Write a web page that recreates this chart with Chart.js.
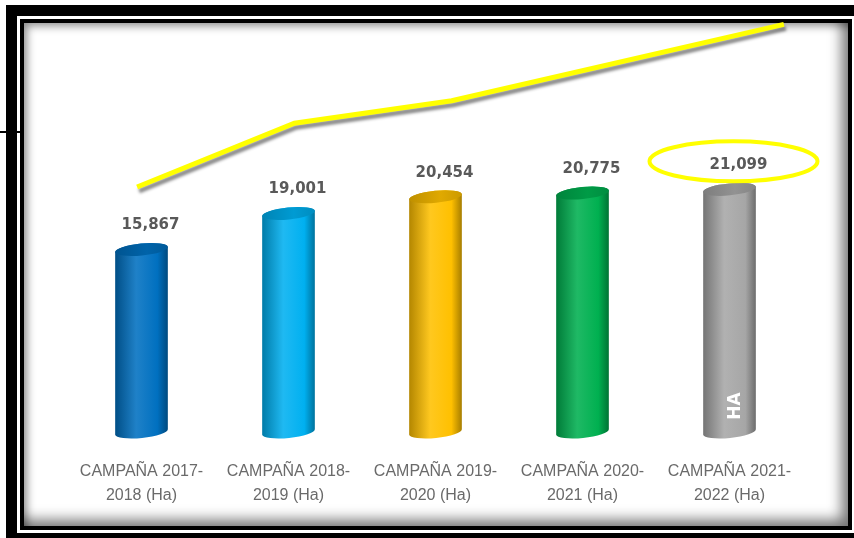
<!DOCTYPE html>
<html lang="es">
<head>
    <meta charset="UTF-8">
    <title>Campañas (Ha)</title>
    <script src="https://cdn.jsdelivr.net/npm/chart.js@4"></script>
    <style>
        html, body { margin: 0; padding: 0; background: #fff; overflow: hidden; }
        body { width: 854px; height: 538px; position: relative; }
        .marcoExterno { position: absolute; left: 6px; top: 5px; width: 860px; height: 539px; border: 11px solid #000; box-sizing: border-box; }
        .marcoInterno { position: absolute; left: 20px; top: 19px; width: 832px; height: 511px; border: 4px solid #000; box-sizing: border-box; background: #fff;
            box-shadow: inset -12px -12px 14px -6px rgba(0,0,0,.55), inset 7px 7px 9px -4px rgba(0,0,0,.45); }
        .raya { position: absolute; left: 0; top: 131px; width: 21px; height: 2px; background: #000; }
        #grafico { position: absolute; left: 0; top: 0; }
    </style>
</head>
<body>
    <div class="marcoExterno"></div>
    <div class="raya"></div>
    <div class="marcoInterno"></div>
    <canvas id="grafico" width="854" height="538"></canvas>

<script>
    // datos
    const campanias = [
        ['CAMPAÑA 2017-', '2018 (Ha)'],
        ['CAMPAÑA 2018-', '2019 (Ha)'],
        ['CAMPAÑA 2019-', '2020 (Ha)'],
        ['CAMPAÑA 2020-', '2021 (Ha)'],
        ['CAMPAÑA 2021-', '2022 (Ha)']
    ];
    const hectareas = [15867, 19001, 20454, 20775, 21099];
    // linea amarilla de tendencia (dibujada a mano encima), en unidades de categoria / Ha
    const tendenciaX = [-0.03, 1.04, 2.11, 4.37];
    const tendenciaY = [21300, 26850, 28800, 35450];

    const coloresBarras = ['#0070C0', '#00B0F0', '#FFC000', '#00B050', '#A6A6A6'];

    function tono(hex, f) {
        const n = parseInt(hex.slice(1), 16);
        let r = n >> 16, g = (n >> 8) & 255, b = n & 255;
        const t = f < 0 ? 0 : 255, p = Math.abs(f);
        r = Math.round(r + (t - r) * p);
        g = Math.round(g + (t - g) * p);
        b = Math.round(b + (t - b) * p);
        return `rgb(${r},${g},${b})`;
    }

    // cilindros 3D dibujados sobre las barras de Chart.js
    const cilindros = {
        id: 'cilindros',
        beforeDatasetsDraw(chart) {
            const ctx = chart.ctx;
            const meta = chart.getDatasetMeta(0);
            meta.data.forEach((bar, i) => {
                const rx = bar.width / 2, ry = 6, rot = -0.1;
                const cx = bar.x, arriba = bar.y, abajo = bar.base;
                const col = coloresBarras[i];

                const g = ctx.createLinearGradient(cx - rx, 0, cx + rx, 0);
                g.addColorStop(0, tono(col, -0.3));
                g.addColorStop(0.4, tono(col, 0.12));
                g.addColorStop(0.8, col);
                g.addColorStop(1, tono(col, -0.35));

                ctx.save();
                ctx.beginPath();
                ctx.ellipse(cx, arriba, rx, ry, rot, Math.PI, 2 * Math.PI);
                ctx.ellipse(cx, abajo, rx, ry, rot, 0, Math.PI);
                ctx.closePath();
                ctx.fillStyle = g;
                ctx.fill();

                const gt = ctx.createLinearGradient(cx - rx, 0, cx + rx, 0);
                gt.addColorStop(0, tono(col, -0.25));
                gt.addColorStop(0.6, tono(col, -0.12));
                gt.addColorStop(1, tono(col, -0.2));
                ctx.beginPath();
                ctx.ellipse(cx, arriba, rx, ry, rot, 0, 2 * Math.PI);
                ctx.fillStyle = gt;
                ctx.fill();
                ctx.restore();
            });
        },
        afterDatasetsDraw(chart) {
            const ctx = chart.ctx;
            const meta = chart.getDatasetMeta(0);
            ctx.save();
            ctx.font = 'bold 15px "DejaVu Sans"';
            ctx.fillStyle = '#595959';
            ctx.textAlign = 'center';
            ctx.textBaseline = 'middle';
            meta.data.forEach((bar, i) => {
                ctx.fillText(hectareas[i].toLocaleString('en-US'), bar.x + 9, bar.y - 24);
            });

            // resaltado de la ultima campaña
            const ult = meta.data[meta.data.length - 1];
            ctx.beginPath();
            ctx.ellipse(ult.x + 4, ult.y - 28, 84, 20, 0, 0, 2 * Math.PI);
            ctx.strokeStyle = '#ffff00';
            ctx.lineWidth = 4;
            ctx.stroke();

            ctx.translate(ult.x + 6, ult.base - 26);
            ctx.rotate(-Math.PI / 2);
            ctx.font = 'bold 17px "DejaVu Sans"';
            ctx.fillStyle = '#ffffff';
            ctx.fillText('HA', 0, 0);
            ctx.restore();
        },
        beforeDatasetDraw(chart, args) {
            if (args.index === 1) {
                const ctx = chart.ctx;
                ctx.save();
                ctx.shadowColor = 'rgba(0,0,0,0.45)';
                ctx.shadowOffsetX = 2;
                ctx.shadowOffsetY = 4;
                ctx.shadowBlur = 3;
            }
        },
        afterDatasetDraw(chart, args) {
            if (args.index === 1) chart.ctx.restore();
        }
    };

    const dados = {
        labels: campanias,
        datasets: [{
            type: 'bar',
            data: hectareas,
            backgroundColor: 'rgba(0,0,0,0)',
            categoryPercentage: 0.6,
            barPercentage: 0.6,
            grouped: false,
            xAxisID: 'x',
            yAxisID: 'y'
        }, {
            type: 'line',
            data: tendenciaX.map((x, i) => ({ x: x, y: tendenciaY[i] })),
            borderColor: '#ffff00',
            borderWidth: 5,
            pointRadius: 0,
            tension: 0,
            clip: false,
            xAxisID: 'xt',
            yAxisID: 'y'
        }]
    };

    const config = {
        type: 'bar',
        data: dados,
        options: {
            responsive: false,
            animation: false,
            layout: { padding: { left: 68, right: 51, top: 18, bottom: 10 } },
            plugins: { legend: { display: false }, tooltip: { enabled: false } },
            scales: {
                x: {
                    grid: { display: false },
                    border: { display: false },
                    ticks: {
                        color: '#6a6a6a',
                        padding: 20,
                        maxRotation: 0,
                        font: { family: '"Liberation Sans", Arial, sans-serif', size: 16, lineHeight: 1.5 }
                    }
                },
                xt: { type: 'linear', display: false, offset: false, min: -0.5, max: 4.5 },
                y: { display: false, min: 0, max: 36000 }
            }
        },
        plugins: [cilindros]
    };

    let myChart = new Chart(document.getElementById('grafico'), config);
</script>
</body>
</html>
